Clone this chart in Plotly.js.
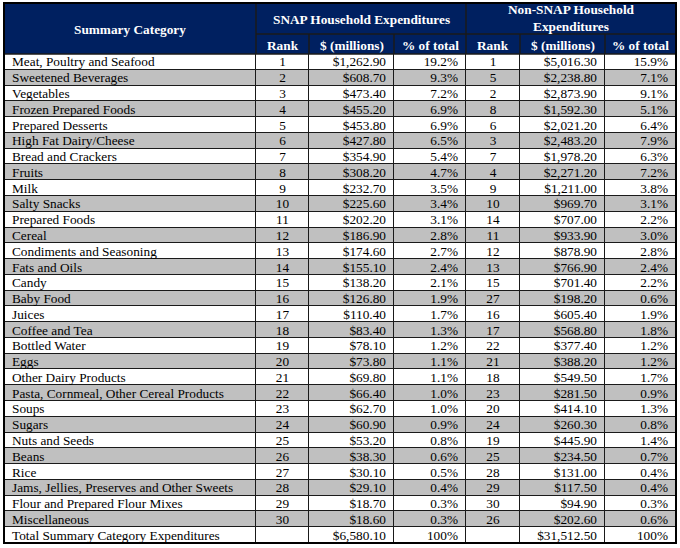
<!DOCTYPE html>
<html>
<head>
<meta charset="utf-8">
<script src="https://cdn.plot.ly/plotly-3.0.1.min.js"></script>
<style>html,body{margin:0;padding:0;background:#fff;}#chart{width:680px;height:548px;}</style>
</head>
<body>
<div id="chart"></div>
<script>
var categories = ["Meat, Poultry and Seafood","Sweetened Beverages","Vegetables","Frozen Prepared Foods","Prepared Desserts","High Fat Dairy/Cheese","Bread and Crackers","Fruits","Milk","Salty Snacks","Prepared Foods","Cereal","Condiments and Seasoning","Fats and Oils","Candy","Baby Food","Juices","Coffee and Tea","Bottled Water","Eggs","Other Dairy Products","Pasta, Cornmeal, Other Cereal Products","Soups","Sugars","Nuts and Seeds","Beans","Rice","Jams, Jellies, Preserves and Other Sweets","Flour and Prepared Flour Mixes","Miscellaneous"];
var totalLabel = "Total Summary Category Expenditures";
var snapRank = [1,2,3,4,5,6,7,8,9,10,11,12,13,14,15,16,17,18,19,20,21,22,23,24,25,26,27,28,29,30];
var snapDollars = [1262.90,608.70,473.40,455.20,453.80,427.80,354.90,308.20,232.70,225.60,202.20,186.90,174.60,155.10,138.20,126.80,110.40,83.40,78.10,73.80,69.80,66.40,62.70,60.90,53.20,38.30,30.10,29.10,18.70,18.60];
var snapPct = [19.2,9.3,7.2,6.9,6.9,6.5,5.4,4.7,3.5,3.4,3.1,2.8,2.7,2.4,2.1,1.9,1.7,1.3,1.2,1.1,1.1,1.0,1.0,0.9,0.8,0.6,0.5,0.4,0.3,0.3];
var nonRank = [1,5,2,8,6,3,7,4,9,10,14,11,12,13,15,27,16,17,22,21,18,23,20,24,19,25,28,29,30,26];
var nonDollars = [5016.30,2238.80,2873.90,1592.30,2021.20,2483.20,1978.20,2271.20,1211.00,969.70,707.00,933.90,878.90,766.90,701.40,198.20,605.40,568.80,377.40,388.20,549.50,281.50,414.10,260.30,445.90,234.50,131.00,117.50,94.90,202.60];
var nonPct = [15.9,7.1,9.1,5.1,6.4,7.9,6.3,7.2,3.8,3.1,2.2,3.0,2.8,2.4,2.2,0.6,1.9,1.8,1.2,1.2,1.7,0.9,1.3,0.8,1.4,0.7,0.4,0.4,0.3,0.6];
var snapTotal = 6580.10, nonTotal = 31512.50, pctTotal = "100%";
var subHeaders = ["Rank", "$ (millions)", "% of total", "Rank", "$ (millions)", "% of total"];
var groupTitles = ["Summary Category", "SNAP Household Expenditures", "Non-SNAP Household<br>Expenditures"];

function money(v){ return "$" + v.toLocaleString("en-US",{minimumFractionDigits:2,maximumFractionDigits:2}); }
function pct(v){ return v.toFixed(1) + "%"; }

var colCat = categories.concat([totalLabel]);
var colSR = snapRank.map(String).concat([""]);
var colSD = snapDollars.map(money).concat([money(snapTotal)]);
var colSP = snapPct.map(pct).concat([pctTotal]);
var colNR = nonRank.map(String).concat([""]);
var colND = nonDollars.map(money).concat([money(nonTotal)]);
var colNP = nonPct.map(pct).concat([pctTotal]);
var columns = [colCat, colSR, colSD, colSP, colNR, colND, colNP];
var aligns = ["left", "center", "right", "right", "center", "right", "right"];

// layout geometry (pixel units along x; rows along y)
var edges = [0, 252, 305, 390, 462, 516, 601, 672];
var PAD = 8, TEXT_SHIFT = 0.08;
var NAVY = "#002060", GRAY = "#c0c0c0", LINE = "#1a1a1a";
var nRows = colCat.length;
var plotTop = 54, plotBottom = 543, plotH = plotBottom - plotTop;
function py(y){ return (plotBottom - y) / plotH; }

var rowIdx = colCat.map(function(_, i){ return i; });
var band = rowIdx.map(function(i){ return edges.slice(1).map(function(){ return i % 2; }); });

var traces = [{
  type: "heatmap",
  x: edges, y: rowIdx, z: band,
  colorscale: [[0, "#ffffff"], [1, GRAY]], zmin: 0, zmax: 1,
  showscale: false, xgap: 1, ygap: 1, hoverinfo: "skip"
}];

columns.forEach(function(col, j){
  var a = aligns[j];
  var xv = a === "left" ? edges[j] + PAD : a === "right" ? edges[j + 1] - PAD : (edges[j] + edges[j + 1]) / 2;
  traces.push({
    type: "scatter", mode: "text", cliponaxis: false, hoverinfo: "skip",
    x: col.map(function(){ return xv; }), y: rowIdx.map(function(i){ return i + TEXT_SHIFT; }), text: col,
    textposition: a === "left" ? "middle right" : a === "right" ? "middle left" : "middle center",
    textfont: {family: "Liberation Serif", size: 13.3, color: "#000"}
  });
});

var shapes = [
  {type: "rect", xref: "paper", yref: "paper", x0: 0, x1: 1, y0: 1, y1: py(3), fillcolor: NAVY, line: {width: 0}},
  {type: "line", xref: "x", yref: "paper", x0: edges[1], x1: edges[1], y0: 1, y1: py(3), line: {color: LINE, width: 1.5}},
  {type: "line", xref: "x", yref: "paper", x0: edges[4], x1: edges[4], y0: 1, y1: py(3), line: {color: LINE, width: 1.5}},
  {type: "line", xref: "x", yref: "paper", x0: edges[1], x1: edges[7], y0: py(34), y1: py(34), line: {color: LINE, width: 1.5}},
  {type: "line", xref: "paper", yref: "paper", x0: 0, x1: 1, y0: 1, y1: 1, line: {color: LINE, width: 1.5}}
];
[2, 3, 5, 6].forEach(function(k){
  shapes.push({type: "line", xref: "x", yref: "paper", x0: edges[k], x1: edges[k], y0: 1, y1: py(34), line: {color: LINE, width: 1.5}});
});
shapes.push({type: "rect", xref: "paper", yref: "paper", x0: 0, x1: 1, y0: 0, y1: py(3), line: {color: "#000", width: 2}});

var hfont = {family: "Liberation Serif", size: 13.3, color: "#ffffff"};
function hAnn(text, x, y){
  return {text: text, xref: "x", x: x, yref: "paper", y: py(y), xanchor: "center", yanchor: "middle", showarrow: false, font: hfont};
}
var annotations = [
  hAnn("<b>" + groupTitles[0] + "</b>", edges[1] / 2, 29),
  hAnn("<b>" + groupTitles[1] + "</b>", (edges[1] + edges[4]) / 2, 19),
  hAnn("<b>" + groupTitles[2].split("<br>").join("</b><br><b>") + "</b>", (edges[4] + edges[7]) / 2, 18.5)
];
subHeaders.forEach(function(h, k){
  annotations.push(hAnn("<b>" + h + "</b>", (edges[k + 1] + edges[k + 2]) / 2, 45));
});

var layout = {
  width: 680, height: 548,
  margin: {l: 4, r: 4, t: plotTop, b: 548 - plotBottom, pad: 0},
  paper_bgcolor: "#ffffff", plot_bgcolor: LINE,
  xaxis: {range: [edges[0], edges[7]], visible: false, fixedrange: true},
  yaxis: {range: [nRows - 0.5, -0.5], visible: false, fixedrange: true},
  shapes: shapes, annotations: annotations, showlegend: false
};

Plotly.newPlot("chart", traces, layout, {displayModeBar: false, staticPlot: true});
</script>
</body>
</html>
